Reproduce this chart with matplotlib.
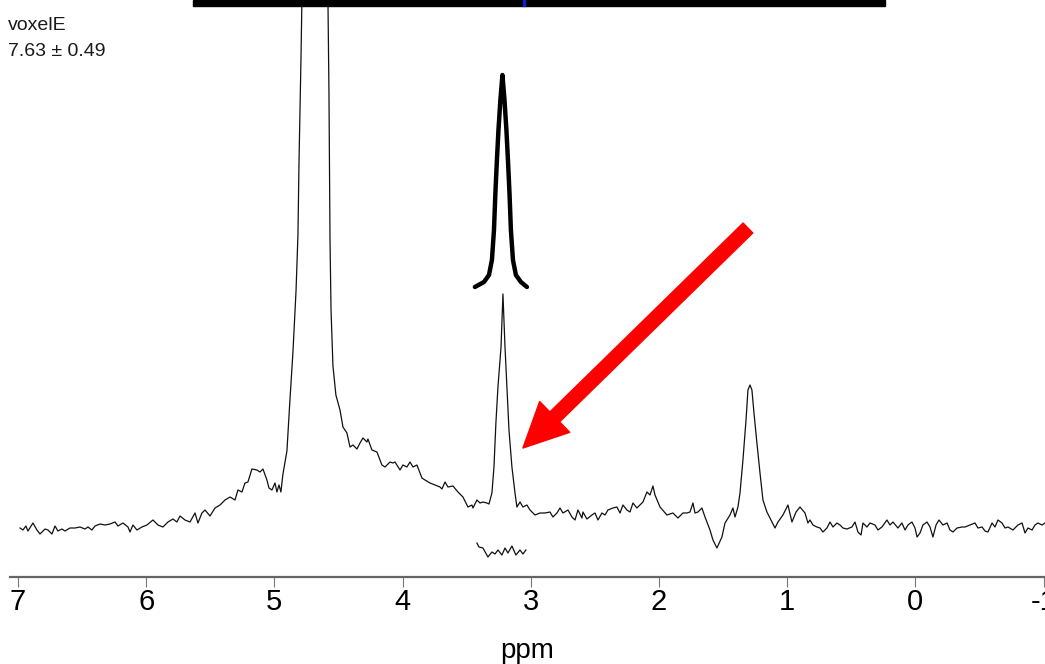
import matplotlib
matplotlib.use("Agg")
import matplotlib.pyplot as plt
from matplotlib.patches import Rectangle

# MR spectrum: (ppm, signal in arbitrary units)
spectrum = [
    (6.984, 2), (6.961, 0), (6.938, 4), (6.922, -1), (6.883, 7), (6.852, 0), (6.828, -4),
    (6.789, 1), (6.766, 0), (6.735, -4), (6.711, 4), (6.688, -1), (6.657, 1), (6.633, -1),
    (6.594, 2), (6.555, 2), (6.516, 3), (6.477, 1), (6.454, 3), (6.423, 0), (6.399, 4),
    (6.360, 6), (6.321, 5), (6.282, 6), (6.243, 8), (6.220, 4), (6.181, 7), (6.142, 3),
    (6.126, -2), (6.103, 5), (6.072, 0), (6.033, 3), (5.994, 5), (5.947, 10), (5.908, 5),
    (5.869, 3), (5.830, 8), (5.791, 11), (5.760, 8), (5.736, 14), (5.697, 10), (5.658, 8),
    (5.619, 17), (5.596, 7), (5.565, 17), (5.541, 20), (5.502, 14), (5.463, 22), (5.424, 25),
    (5.385, 30), (5.346, 33), (5.307, 30), (5.284, 40), (5.253, 38), (5.229, 47), (5.206, 48),
    (5.175, 61), (5.136, 60), (5.112, 58), (5.089, 61), (5.058, 50), (5.042, 42), (5.019, 40),
    (4.995, 47), (4.980, 38), (4.964, 45), (4.949, 38), (4.933, 56), (4.902, 79), (4.878, 131),
    (4.855, 178), (4.831, 239), (4.816, 295), (4.808, 366), (4.792, 474), (4.785, 530),
    (4.683, 2500),  # water, far off the top
    (4.582, 530), (4.574, 436), (4.566, 291), (4.558, 220), (4.543, 164), (4.520, 135),
    (4.488, 120), (4.465, 103), (4.434, 97), (4.410, 83), (4.387, 85), (4.356, 81),
    (4.332, 87), (4.309, 92), (4.278, 88), (4.270, 91), (4.239, 80), (4.200, 78), (4.176, 70),
    (4.161, 65), (4.137, 63), (4.098, 68), (4.075, 67), (4.059, 68), (4.020, 60), (3.997, 65),
    (3.966, 63), (3.942, 68), (3.919, 63), (3.888, 65), (3.849, 52), (3.825, 50), (3.786, 47),
    (3.747, 45), (3.708, 43), (3.693, 41), (3.669, 48), (3.646, 43), (3.607, 44), (3.568, 38),
    (3.529, 33), (3.490, 23), (3.459, 25), (3.451, 22), (3.420, 30), (3.396, 27), (3.373, 28),
    (3.342, 27), (3.326, 26), (3.303, 37), (3.287, 63), (3.272, 107), (3.256, 143),
    (3.232, 183), (3.217, 236), (3.201, 183), (3.186, 143), (3.170, 100), (3.147, 63),
    (3.123, 37), (3.108, 23), (3.084, 28), (3.061, 23), (3.030, 25), (3.006, 20), (2.967, 15),
    (2.928, 17), (2.889, 17), (2.850, 18), (2.827, 13), (2.796, 17), (2.772, 22), (2.749, 17),
    (2.710, 20), (2.679, 13), (2.655, 10), (2.632, 20), (2.601, 12), (2.593, 18), (2.562, 11),
    (2.523, 15), (2.499, 17), (2.476, 10), (2.445, 17), (2.421, 15), (2.398, 20), (2.359, 22),
    (2.328, 23), (2.304, 17), (2.281, 25), (2.250, 20), (2.226, 18), (2.203, 27), (2.172, 22),
    (2.148, 25), (2.125, 28), (2.094, 38), (2.070, 35), (2.047, 44), (2.031, 35), (1.992, 23),
    (1.938, 15), (1.891, 17), (1.852, 12), (1.813, 17), (1.782, 17), (1.758, 18), (1.735, 27),
    (1.719, 17), (1.696, 18), (1.665, 22), (1.641, 13), (1.602, 0), (1.579, -10), (1.548, -18),
    (1.509, -7), (1.485, 7), (1.446, 15), (1.423, 22), (1.407, 13), (1.384, 23), (1.368, 37),
    (1.345, 70), (1.321, 110), (1.306, 140), (1.290, 145), (1.275, 140), (1.259, 117),
    (1.236, 87), (1.212, 57), (1.189, 30), (1.158, 18), (1.119, 8), (1.095, 2), (1.072, 8),
    (1.033, 15), (0.994, 25), (0.963, 8), (0.931, 18), (0.900, 23), (0.861, 17), (0.838, 7),
    (0.822, 10), (0.799, 5), (0.768, 3), (0.744, 2), (0.721, -2), (0.690, 2), (0.666, 8),
    (0.643, 3), (0.612, 7), (0.588, 5), (0.565, 2), (0.534, 1), (0.495, 3), (0.471, 8),
    (0.448, -2), (0.424, -5), (0.409, 7), (0.378, 3), (0.354, 7), (0.315, 5), (0.292, 0),
    (0.261, 3), (0.222, 10), (0.198, 5), (0.175, 8), (0.136, 2), (0.105, 7), (0.081, 0),
    (0.058, 5), (0.027, 8), (0.003, 2), (-0.013, -7), (-0.036, -3), (-0.059, 5), (-0.091, 8),
    (-0.114, 3), (-0.137, -7), (-0.161, 5), (-0.184, 10), (-0.215, 5), (-0.247, 7),
    (-0.270, 0), (-0.293, -2), (-0.325, 2), (-0.364, 3), (-0.387, 3), (-0.426, 5), (-0.465, 7),
    (-0.488, 2), (-0.520, 3), (-0.543, -1), (-0.566, -2), (-0.598, 7), (-0.621, 3),
    (-0.644, 10), (-0.676, 7), (-0.699, 2), (-0.722, 3), (-0.761, 0), (-0.800, 5), (-0.832, 7),
    (-0.855, -3), (-0.878, 2), (-0.910, 0), (-0.933, 5), (-0.956, 7), (-0.988, 5), (-1.011, 7),
]

# fitted peak, drawn above the spectrum (bold)
fit_ppm = [3.436, 3.365, 3.326, 3.303, 3.287, 3.276, 3.264, 3.252, 3.237, 3.221,
           3.205, 3.190, 3.178, 3.166, 3.155, 3.139, 3.116, 3.077, 3.030]
fit_val = [243, 248, 255, 270, 300, 337, 370, 400, 430, 455,
           430, 400, 370, 337, 300, 270, 255, 248, 243]

# fit residual under the peak
resid_ppm = [3.420, 3.404, 3.373, 3.334, 3.303, 3.279, 3.256, 3.225,
             3.201, 3.178, 3.147, 3.116, 3.084, 3.061, 3.038]
resid_val = [-13, -17, -18, -27, -22, -24, -20, -25, -18, -23, -16, -25, -20, -24, -20]

xticks = [7, 6, 5, 4, 3, 2, 1, 0, -1]
voxel_name = "voxelE"
voxel_value = "7.63 \u00b1 0.49"
arrow_tail = (1.306, 302)
arrow_head = (3.061, 82)

W, H = 1045, 664
fig = plt.figure(figsize=(W / 100, H / 100), dpi=100)
ax = fig.add_axes([10 / W, (H - 577) / H, 1 - 10 / W, 577 / H])

ppm = [p for p, v in spectrum]
val = [v for p, v in spectrum]
ax.plot(ppm, val, color="#111111", lw=0.9)
ax.plot(fit_ppm, fit_val, color="black", lw=3.2, solid_capstyle="round")
ax.plot(resid_ppm, resid_val, color="#111111", lw=0.9)

ax.annotate("", xy=arrow_head, xytext=arrow_tail,
            arrowprops=dict(arrowstyle="simple,head_length=32,head_width=31,tail_width=10",
                            mutation_scale=1, color="#ff0000", shrinkA=0, shrinkB=0))

ax.set_xlim(7.062, -1.011)
ax.set_ylim(-47, 530)
ax.set_yticks([])
for s in ["top", "left", "right"]:
    ax.spines[s].set_visible(False)
ax.spines["bottom"].set_color("#666666")
ax.spines["bottom"].set_linewidth(1.6)
ax.set_xticks(xticks)
ax.set_xticklabels([str(t) for t in xticks])
ax.tick_params(axis="x", direction="out", length=7, width=0.8, color="#777777", pad=1)
narrow = ["Liberation Sans Narrow", "Liberation Sans", "DejaVu Sans"]
for lab in ax.get_xticklabels():
    lab.set_family(narrow)
    lab.set_fontsize(21)
ax.set_xlabel("ppm", family=narrow, fontsize=20, labelpad=16)

fig.text(8 / W, 1 - 26 / H, voxel_name, family=["Liberation Sans", "DejaVu Sans"],
         fontsize=14, color="#1a1a1a", va="center")
fig.text(8 / W, 1 - 51 / H, voxel_value, family=["Liberation Sans", "DejaVu Sans"],
         fontsize=14, color="#1a1a1a", va="center")

# dark strip along the top edge
fig.patches.append(Rectangle((193 / W, 1 - 6 / H), (885 - 193) / W, 6 / H,
                             transform=fig.transFigure, color="black"))
fig.patches.append(Rectangle((523 / W, 1 - 6 / H), 2 / W, 6 / H,
                             transform=fig.transFigure, color="#1020d0"))

fig.savefig("out.png", dpi=100)
